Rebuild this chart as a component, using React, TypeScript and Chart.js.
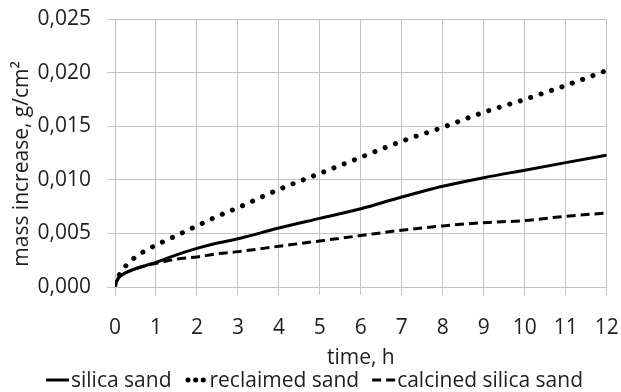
import React, { useEffect, useRef } from "react";
import { Chart, registerables } from "chart.js";

Chart.register(...registerables);

// ---- data ----
const times = [0, 0.05, 0.1, 0.25, 0.5, 0.75, 1, 1.5, 2, 2.5, 3, 4, 5, 6, 7, 8, 9, 10, 11, 12];
const silicaSand = [0.0002, 0.0006, 0.0009, 0.0013, 0.0017, 0.002, 0.0023, 0.003, 0.0036, 0.0041, 0.0045, 0.0055, 0.0064, 0.0073, 0.0084, 0.0094, 0.0102, 0.0109, 0.0116, 0.0123];
const reclaimedSand = [0.0002, 0.0008, 0.0011, 0.0019, 0.0028, 0.0034, 0.0039, 0.0048, 0.0057, 0.0066, 0.0074, 0.0091, 0.0106, 0.0121, 0.0136, 0.0149, 0.0163, 0.0175, 0.0188, 0.0202];
const calcinedSand = [0.0002, 0.0006, 0.0009, 0.0013, 0.0017, 0.002, 0.0022, 0.0026, 0.0028, 0.0031, 0.0033, 0.0038, 0.0043, 0.0048, 0.0053, 0.0057, 0.006, 0.0062, 0.0066, 0.0069];
const seriesNames = ["silica sand", "reclaimed sand", "calcined silica sand"];
const xAxisTitle = "time, h";
const yAxisTitle = "mass increase, g/cm²";
const yMin = 0;
const yMax = 0.025;
const yStep = 0.005;
const xMin = 0;
const xMax = 12;
const xStep = 1;

const FONT = "'Open Sans', sans-serif";
const FONT_SIZE = 21;
const TEXT = "#1e1e1e";
const GRID = "#c3c3c3";

export default function App() {
  const ref = useRef<HTMLCanvasElement>(null);

  useEffect(() => {
    const canvas = ref.current;
    if (!canvas) return;

    const toPts = (ys: number[]) => times.map((t, i) => ({ x: t, y: ys[i] }));

    const yTitlePlugin = {
      id: "yTitle",
      afterDraw(chart: any) {
        const { ctx, chartArea } = chart;
        ctx.save();
        ctx.font = `${FONT_SIZE}px ${FONT}`;
        ctx.fillStyle = TEXT;
        ctx.textAlign = "center";
        ctx.textBaseline = "alphabetic";
        ctx.translate(28, (chartArea.top + chartArea.bottom) / 2 + 11);
        ctx.rotate(-Math.PI / 2);
        ctx.fillText(yAxisTitle, 0, 0);
        ctx.restore();
      },
    };

    const legendPlugin = {
      id: "lineLegend",
      afterDraw(chart: any) {
        const { ctx } = chart;
        ctx.save();
        ctx.font = `${FONT_SIZE}px ${FONT}`;
        const sampleW = 23;
        const gap = 2;
        const itemGap = 13;
        const widths = seriesNames.map((n) => ctx.measureText(n).width);
        const total = widths.reduce((a, b) => a + b, 0) + seriesNames.length * (sampleW + gap) + (seriesNames.length - 1) * itemGap;
        let x = chart.width / 2 - total / 2 + 4;
        const baseY = chart.height - 5;
        const lineY = chart.height - 12;
        chart.data.datasets.forEach((ds: any, i: number) => {
          ctx.save();
          ctx.strokeStyle = ds.borderColor;
          ctx.lineWidth = ds.borderWidth;
          const round = ds.borderCapStyle === "round";
          ctx.lineCap = round ? "round" : "butt";
          ctx.setLineDash(round ? [0.1, 7.5] : ds.borderDash || []);
          ctx.beginPath();
          const inset = round ? ds.borderWidth / 2 + 1 : 0;
          ctx.moveTo(x + inset, lineY);
          ctx.lineTo(x + sampleW, lineY);
          ctx.stroke();
          ctx.restore();
          ctx.fillStyle = TEXT;
          ctx.textAlign = "left";
          ctx.textBaseline = "alphabetic";
          ctx.fillText(seriesNames[i], x + sampleW + gap, baseY);
          x += sampleW + gap + widths[i] + itemGap;
        });
        ctx.restore();
      },
    };

    const chart = new Chart(canvas, {
      type: "line",
      data: {
        datasets: [
          {
            label: seriesNames[0],
            data: toPts(silicaSand),
            borderColor: "#000000",
            borderWidth: 3,
            pointRadius: 0,
            cubicInterpolationMode: "monotone",
          },
          {
            label: seriesNames[1],
            data: toPts(reclaimedSand),
            borderColor: "#000000",
            borderWidth: 5,
            borderDash: [0.1, 10.9],
            borderCapStyle: "round",
            pointRadius: 0,
            cubicInterpolationMode: "monotone",
          },
          {
            label: seriesNames[2],
            data: toPts(calcinedSand),
            borderColor: "#000000",
            borderWidth: 3,
            borderDash: [9, 5],
            pointRadius: 0,
            cubicInterpolationMode: "monotone",
          },
        ],
      },
      options: {
        responsive: false,
        animation: false,
        events: [],
        layout: { padding: { top: 19, right: 14.3, left: 0, bottom: 25 } },
        plugins: {
          legend: { display: false },
          tooltip: { enabled: false },
        },
        scales: {
          x: {
            type: "linear",
            min: xMin,
            max: xMax,
            ticks: {
              stepSize: xStep,
              color: TEXT,
              font: { family: FONT, size: FONT_SIZE },
              padding: 20,
              maxRotation: 0,
              autoSkip: false,
            },
            grid: { color: GRID, lineWidth: 1, tickLength: 8, tickColor: GRID },
            border: { color: GRID, width: 1 },
            title: {
              display: true,
              text: xAxisTitle,
              color: TEXT,
              font: { family: FONT, size: FONT_SIZE },
              padding: { top: 0, bottom: -4 },
            },
            afterFit: (scale: any) => {
              scale.height = 80;
              scale.paddingLeft = 0;
              scale.paddingRight = 0;
            },
          },
          y: {
            type: "linear",
            min: yMin,
            max: yMax,
            ticks: {
              stepSize: yStep,
              color: TEXT,
              font: { family: FONT, size: FONT_SIZE },
              padding: 16,
              callback: (v: any) => Number(v).toFixed(3).replace(".", ","),
            },
            grid: { color: GRID, lineWidth: 1, tickLength: 8, tickColor: GRID },
            border: { color: GRID, width: 1 },
            afterFit: (scale: any) => {
              scale.width = 115;
              scale.paddingTop = 0;
              scale.paddingBottom = 0;
            },
          },
        },
      },
      plugins: [yTitlePlugin, legendPlugin],
    } as any);

    return () => chart.destroy();
  }, []);

  return (
    <div style={{ position: "fixed", left: 0, top: 0, width: 621, height: 392, background: "#fff" }}>
      <canvas ref={ref} width={621} height={392} style={{ display: "block" }} />
    </div>
  );
}
